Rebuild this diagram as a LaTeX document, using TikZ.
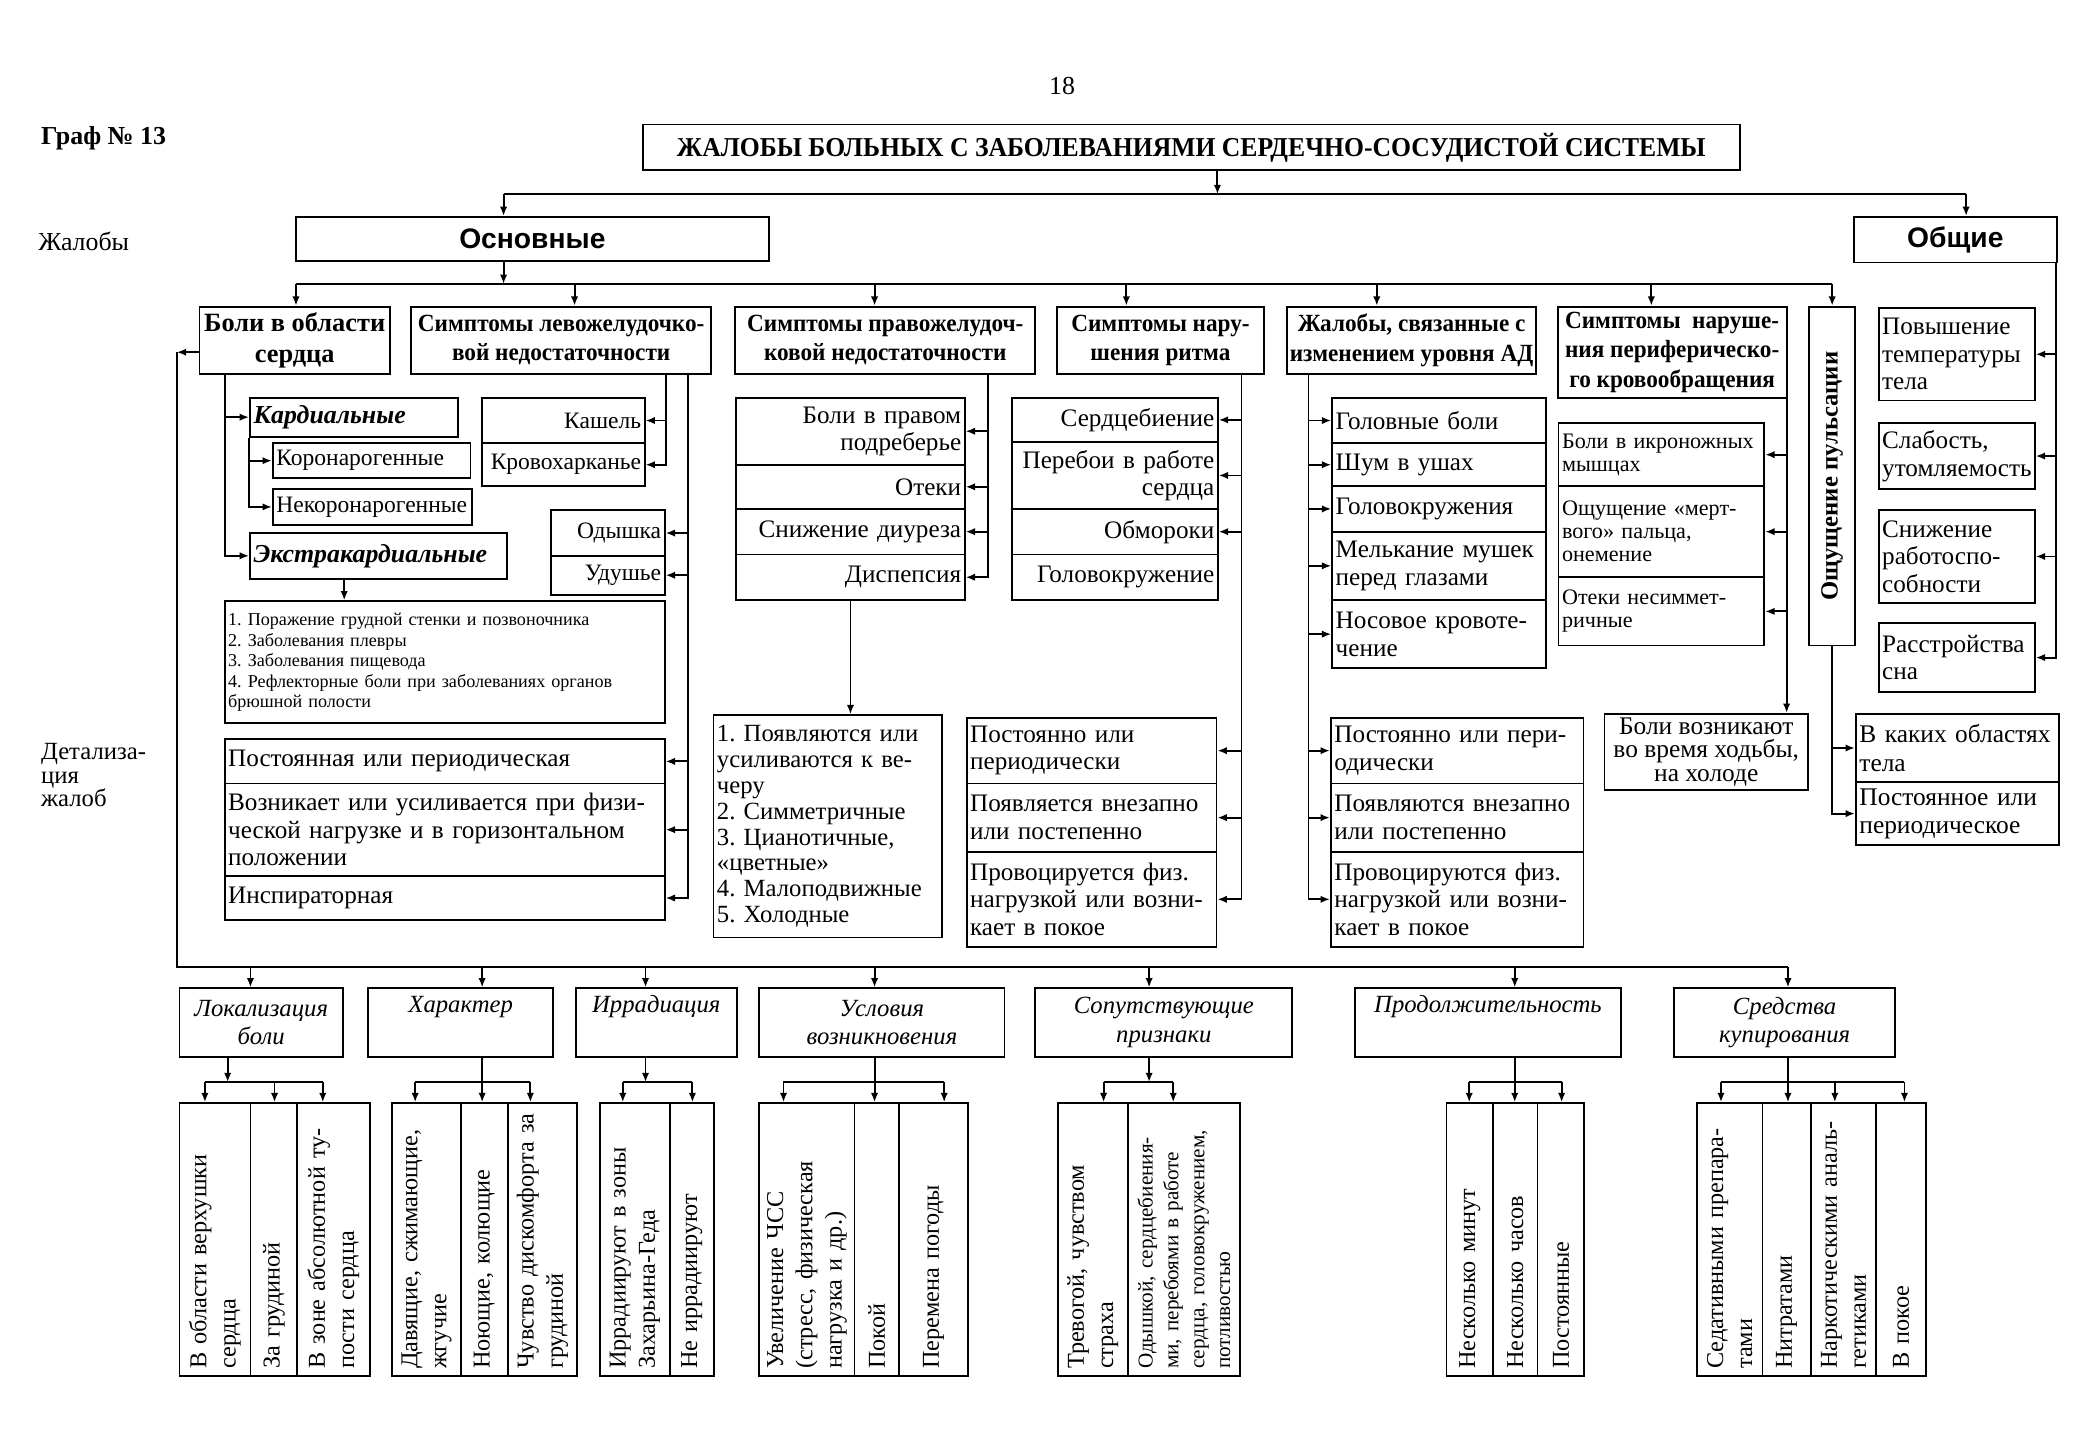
\documentclass[tikz,border=0pt]{standalone}
\usepackage{fontspec}
\setmainfont{Liberation Serif}
\newfontfamily\hdsans{Liberation Sans}
\newfontfamily\hdserif{Liberation Serif}[FakeStretch=0.94]
\usetikzlibrary{arrows.meta}
\newcommand{\szbody}{\fontsize{10}{11.7}\selectfont}
\newcommand{\szbig}{\fontsize{10.7}{11.7}\selectfont}
\newcommand{\szhead}{\fontsize{10.5}{12.5}\selectfont\hdserif\bfseries}
\newcommand{\szkard}{\fontsize{11}{13}\selectfont\bfseries\itshape}
\newcommand{\szlist}{\fontsize{7.7}{8.7}\selectfont}
\newcommand{\szperi}{\fontsize{9.4}{9.8}\selectfont}
\newcommand{\szcol}{\fontsize{10.3}{12.4}\selectfont}
\newcommand{\szcolsm}{\fontsize{9}{11}\selectfont}
\newcommand{\szital}{\fontsize{10.5}{12}\selectfont\itshape}
\newcommand{\sztitle}{\fontsize{11.6}{13}\selectfont\hdserif\bfseries}
\newcommand{\szsans}{\fontsize{12}{14}\selectfont\hdsans\bfseries}

\begin{document}
\frenchspacing
\begin{tikzpicture}[
    x=0.02cm, y=-0.02cm,
    line width=0.8pt,
    >={Latex[length=1.4mm,width=1.1mm]},
    box/.style 2 args={draw, minimum width=#1*0.02cm, minimum height=#2*0.02cm,
                       inner sep=0pt, align=center},
    cell/.style n args={3}{draw, text width=#1*0.02cm-3.8pt,
                           minimum height=#2*0.02cm, inner xsep=1.5pt,
                           inner ysep=0pt, align=#3},
    col/.style 2 args={draw, rotate=90, text width=205*0.02cm-6.8pt,
                       minimum height=#1*0.02cm, inner xsep=3pt,
                       inner ysep=0pt, align=left, font=#2},
    lab/.style={inner sep=0pt, align=left, font=\szbody},
  ]
  \fill[white] (0,0) rectangle (1568,1087);
  \useasboundingbox (0,0) rectangle (1568,1087);

  %% ---- page head ------------------------------------------------------
  \node[lab] (PG) at (793,64) {\fontsize{11}{13}\selectfont 18};
  \node[lab, anchor=west] (GR) at (30,103) {\fontsize{11}{13}\selectfont\bfseries Граф № 13};
  \node[box={819}{34}, font=\sztitle] (T) at (889.5,110)
    {ЖАЛОБЫ БОЛЬНЫХ С ЗАБОЛЕВАНИЯМИ СЕРДЕЧНО-СОСУДИСТОЙ СИСТЕМЫ};
  \node[lab, anchor=west, font=\fontsize{11}{13}\selectfont] (LJ) at (28,180) {Жалобы};
  \node[lab, anchor=west, font=\fontsize{10.5}{10}\selectfont] (LD) at (30,579)
    {Детализа-\\ция\\жалоб};

  \node[box={353}{33}, font=\szsans] (OSN) at (397.5,178.5) {Основные};
  \node[box={152}{34}, font=\szsans] (OB)  at (1460,179)   {Общие};

  \coordinate (t0) at (909,145);
  \coordinate (t1) at (376,145);
  \coordinate (t2) at (1468,145);
  \draw[->] (t0 |- T.south) -- (t0);
  \draw (t1) -- (t2);
  \draw[->] (t1) -- (t1 |- OSN.north);
  \draw[->] (t2) -- (t2 |- OB.north);

  %% ---- main groups ----------------------------------------------------
  \node[box={142}{50}, font=\fontsize{11.2}{13}\selectfont\bfseries] (BO) at (220,254) {Боли в области\\сердца};
  \node[box={224}{50}, font=\szhead] (LV) at (419,254)    {Симптомы левожелудочко-\\вой недостаточности};
  \node[box={224}{50}, font=\szhead] (PR) at (661,254)    {Симптомы правожелудоч-\\ковой недостаточности};
  \node[box={155}{50}, font=\szhead] (RT) at (866.5,254)  {Симптомы нару-\\шения ритма};
  \node[box={186}{50}, font=\szhead] (AD) at (1054,254)   {Жалобы, связанные с\\изменением уровня АД};
  \node[box={171}{68}, font=\szhead] (PE) at (1248.5,263) {Симптомы \ наруше-\\ния периферическо-\\го кровообращения};
  \node[box={253}{34}, rotate=90, font=\fontsize{10.5}{12.5}\selectfont\bfseries] (PU) at (1368,355.5)
    {Ощущение пульсации};

  \coordinate (s0) at (376,212);
  \draw[->] (s0 |- OSN.south) -- (s0);
  \draw (221,212) -- (1368,212);
  % PU is turned: its east anchor is the top
  \foreach \n/\a/\x in {BO/north/221, LV/north/429, PR/north/653, RT/north/841,
                        AD/north/1028, PE/north/1233, PU/east/1368}
    \draw[->] (\x,212) -- (\x,212 |- \n.\a);

  %% ---- general complaints ---------------------------------------------
  \node[cell={118}{69}{left}, font=\szbig] (O1) at (1461,264.5) {Повышение\\температуры\\тела};
  \node[cell={118}{49}{left}, font=\szbig] (O2) at (1461,340.5) {Слабость,\\утомляемость};
  \node[cell={118}{69}{left}, font=\szbig] (O3) at (1461,415.5) {Снижение\\работоспо-\\собности};
  \node[cell={118}{52}{left}, font=\szbig] (O4) at (1461,491)   {Расстройства\\сна};

  \coordinate (ob) at (1535,0);
  \draw[->] (ob |- OB.south) |- (O4.east);
  \foreach \n in {O1,O2,O3}
    \draw[->] (ob |- \n.east) -- (\n.east);

  %% ---- pain in the heart ----------------------------------------------
  \node[cell={157}{29}{left}, font=\szkard] (KA) at (264.5,311.5) {Кардиальные};
  \node[cell={149}{26}{left}, font=\szbody] (KO) at (277.5,344)   {Коронарогенные};
  \node[cell={150}{27}{left}, font=\szbody] (NK) at (278,378.5)   {Некоронарогенные};
  \node[cell={193}{34}{left}, font=\szkard] (EX) at (282.5,415)   {Экстракардиальные};
  \node[cell={330}{91}{left}, font=\szlist] (L1) at (332,494.5)
    {1. Поражение грудной стенки и позвоночника\\
     2. Заболевания плевры\\
     3. Заболевания пищевода\\
     4. Рефлекторные боли при заболеваниях органов\\
     брюшной полости};

  \coordinate (bo) at (168,0);
  \draw[->] (bo |- BO.south) |- (EX.west);
  \draw[->] (bo |- KA.west) -- (KA.west);
  \draw[->] (KA.south west) |- (NK.west);
  \draw[->] (KA.south west |- KO.west) -- (KO.west);
  \coordinate (ex) at (257,0);
  \draw[->] (ex |- EX.south) -- (ex |- L1.north);

  \coordinate (lc) at (132,263);
  \draw[->] (lc -| BO.west) -- (lc);

  %% ---- left ventricle -------------------------------------------------
  \node[cell={123}{34}{right}, font=\szbody] (KS) at (420.5,314) {Кашель};
  \node[cell={123}{32}{right}, font=\szbody] (KR) at (420.5,347) {Кровохарканье};
  \node[cell={86}{34}{right},  font=\szbody] (OD) at (454,398)   {Одышка};
  \node[cell={86}{29}{right},  font=\szbody] (UD) at (454,429.5) {Удушье};
  \node[cell={330}{33}{left},  font=\szbig] (D1) at (332,568.5) {Постоянная или периодическая};
  \node[cell={330}{69}{left},  font=\szbig] (D2) at (332,619.5)
    {Возникает или усиливается при физи-\\ческой нагрузке и в горизонтальном\\положении};
  \node[cell={330}{33}{left},  font=\szbig] (D3) at (332,670.5) {Инспираторная};

  \coordinate (lv) at (497,0);
  \draw[->] (lv |- LV.south) |- (KR.east);
  \draw[->] (lv |- KS.east) -- (KS.east);
  \coordinate (lw) at (514,0);
  \draw[->] (lw |- LV.south) |- (D3.east);
  \foreach \n in {OD,UD,D1,D2}
    \draw[->] (lw |- \n.east) -- (\n.east);

  %% ---- right ventricle ------------------------------------------------
  \node[cell={172}{50}{right}, font=\szbig] (P1) at (635,322)   {Боли в правом\\подреберье};
  \node[cell={172}{33}{right}, font=\szbig] (P2) at (635,363.5) {Отеки};
  \node[cell={172}{34}{right}, font=\szbig] (P3) at (635,397)   {Снижение диуреза};
  \node[cell={172}{34}{right}, font=\szbig] (P4) at (635,431)   {Диспепсия};
  \node[cell={172}{166}{left}, font=\fontsize{10.5}{11}\selectfont] (PD) at (618,617)
    {1. Появляются или\\усиливаются к ве-\\черу\\2. Симметричные\\3. Цианотичные,\\%
     «цветные»\\4. Малоподвижные\\5. Холодные};

  \coordinate (pr) at (738,0);
  \draw[->] (pr |- PR.south) |- (P4.east);
  \foreach \n in {P1,P2,P3}
    \draw[->] (pr |- \n.east) -- (\n.east);
  \draw[->] (P4.south) -- (P4.south |- PD.north);

  %% ---- rhythm ---------------------------------------------------------
  \node[cell={155}{33}{right}, font=\szbig] (R1) at (832.5,313.5) {Сердцебиение};
  \node[cell={155}{50}{right}, font=\szbig] (R2) at (832.5,355)   {Перебои в работе\\сердца};
  \node[cell={155}{34}{right}, font=\szbig] (R3) at (832.5,397)   {Обмороки};
  \node[cell={155}{34}{right}, font=\szbig] (R4) at (832.5,431)   {Головокружение};
  \node[cell={188}{49}{left},  font=\szbig] (R5) at (815,560.5)   {Постоянно или\\периодически};
  \node[cell={188}{51}{left},  font=\szbig] (R6) at (815,610.5)   {Появляется внезапно\\или постепенно};
  \node[cell={188}{71}{left},  font=\szbig] (R7) at (815,671.5)
    {Провоцируется физ.\\нагрузкой или возни-\\кает в покое};

  \coordinate (rt) at (927,0);
  \draw[->] (rt |- RT.south) |- (R7.east);
  \foreach \n in {R1,R2,R3,R5,R6}
    \draw[->] (rt |- \n.east) -- (\n.east);

  %% ---- blood pressure -------------------------------------------------
  \node[cell={161}{34}{left}, font=\szbig] (A1) at (1074.5,314)   {Головные боли};
  \node[cell={161}{32}{left}, font=\szbig] (A2) at (1074.5,347)   {Шум в ушах};
  \node[cell={161}{34}{left}, font=\szbig] (A3) at (1074.5,380)   {Головокружения};
  \node[cell={161}{51}{left}, font=\szbig] (A4) at (1074.5,422.5) {Мелькание мушек\\перед глазами};
  \node[cell={161}{51}{left}, font=\szbig] (A5) at (1074.5,473.5) {Носовое кровоте-\\чение};
  \node[cell={190}{49}{left}, font=\szbig] (A6) at (1088,560.5)   {Постоянно или пери-\\одически};
  \node[cell={190}{51}{left}, font=\szbig] (A7) at (1088,610.5)   {Появляются внезапно\\или постепенно};
  \node[cell={190}{71}{left}, font=\szbig] (A8) at (1088,671.5)
    {Провоцируются физ.\\нагрузкой или возни-\\кает в покое};

  \coordinate (ad) at (977,0);
  \draw[->] (ad |- AD.south) |- (A8.west);
  \foreach \n in {A1,A2,A3,A4,A5,A6,A7}
    \draw[->] (ad |- \n.west) -- (\n.west);

  %% ---- peripheral circulation and pulsation ---------------------------
  \node[cell={155}{47}{left}, font=\szperi] (E1) at (1240.5,339.5) {Боли в икроножных\\мышцах};
  \node[cell={155}{68}{left}, font=\szperi] (E2) at (1240.5,397)   {Ощущение «мерт-\\вого» пальца,\\онемение};
  \node[cell={155}{51}{left}, font=\szperi] (E3) at (1240.5,456.5) {Отеки несиммет-\\ричные};
  \node[box={152}{57}, font=\fontsize{10.8}{10}\selectfont] (HW) at (1274,561.5)
    {Боли возникают\\во время ходьбы,\\на холоде};

  \coordinate (pe) at (1334,0);
  \draw[->] (pe |- PE.south) -- (pe |- HW.north);
  \foreach \n in {E1,E2,E3}
    \draw[->] (pe |- \n.east) -- (\n.east);

  \node[cell={153}{51}{left}, font=\fontsize{10.8}{12}\selectfont] (KK) at (1461.5,558.5) {В каких областях\\тела};
  \node[cell={153}{47}{left}, font=\fontsize{10.8}{12}\selectfont] (PP) at (1461.5,607.5) {Постоянное или\\периодическое};
  % PU is turned: its west anchor is the bottom
  \draw[->] (PU.west) |- (PP.west);
  \draw[->] (PU.west |- KK.west) -- (KK.west);

  %% ---- detail headings ------------------------------------------------
  \node[box={122}{51}, font=\szital] (H1) at (195,763.5)    {Локализация\\боли};
  \node[box={138}{51}, font=\szital] (H2) at (344,763.5)    {Характер\\\strut};
  \node[box={120}{51}, font=\szital] (H3) at (490,763.5)    {Иррадиация\\\strut};
  \node[box={183}{51}, font=\szital] (H4) at (658.5,763.5)  {Условия\\возникновения};
  \node[box={192}{51}, font=\szital] (H5) at (869,763.5)    {Сопутствующие\\признаки};
  \node[box={198}{51}, font=\szital] (H6) at (1111,763.5)   {Продолжительность\\\strut};
  \node[box={165}{51}, font=\szital] (H7) at (1332.5,763.5) {Средства\\купирования};

  \coordinate (bb0) at (132,722);
  \coordinate (bb1) at (1335,722);
  \draw (lc) -- (bb0) -- (bb1);
  \foreach \n/\x in {H1/187, H2/360, H3/482, H4/653, H5/858, H6/1131, H7/1335}
    \draw[->] (\x,722) -- (\x,722 |- \n.north);

  %% ---- detail columns (turned, east anchor = top) ---------------------
  \node[col={53}{\szcol}] (C11) at (160.5,925.5) {В области верхушки\\сердца};
  \node[col={35}{\szcol}] (C12) at (204.5,925.5) {За грудиной};
  \node[col={54}{\szcol}] (C13) at (249,925.5)   {В зоне абсолютной ту-\\пости сердца};
  \node[col={51}{\szcol}] (C21) at (318.5,925.5) {Давящие, сжимающие,\\жгучие};
  \node[col={35}{\szcol}] (C22) at (361.5,925.5) {Ноющие, колющие};
  \node[col={52}{\szcol}] (C23) at (405,925.5)   {Чувство дискомфорта за\\грудиной};
  \node[col={52}{\szcol}] (C31) at (474,925.5)   {Иррадиируют в зоны\\Захарьина-Геда};
  \node[col={33}{\szcol}] (C32) at (516.5,925.5) {Не иррадиируют};
  \node[col={71}{\szcol}] (C41) at (602.5,925.5) {Увеличение ЧСС\\(стресс, физическая\\нагрузка и др.)};
  \node[col={33}{\szcol}] (C42) at (654.5,925.5) {Покой};
  \node[col={52}{\szcol}] (C43) at (697,925.5)   {Перемена погоды};
  \node[col={52}{\szcol}] (C51) at (816,925.5)   {Тревогой, чувством\\страха};
  \node[col={84}{\szcolsm}] (C52) at (884,925.5)
    {Одышкой, сердцебиения-\\ми, перебоями в работе\\сердца, головокружением,\\потливостью};
  \node[col={35}{\szcol}] (C61) at (1097.5,925.5) {Несколько минут};
  \node[col={33}{\szcol}] (C62) at (1131.5,925.5) {Несколько часов};
  \node[col={35}{\szcol}] (C63) at (1165.5,925.5) {Постоянные};
  \node[col={49}{\szcol}] (C71) at (1291.5,925.5) {Седативными препара-\\тами};
  \node[col={36}{\szcol}] (C72) at (1334,925.5)   {Нитратами};
  \node[col={49}{\szcol}] (C73) at (1376.5,925.5) {Наркотическими аналь-\\гетиками};
  \node[col={37}{\szcol}] (C74) at (1419.5,925.5) {В покое};

  \foreach \a/\b in {153/241, 310/396, 465/517, 585/705, 824/876, 1097/1166, 1285/1422}
    \draw (\a,808) -- (\b,808);
  \foreach \n/\x in {H1/170, H3/482, H5/858}
    \draw[->] (\x,808 |- \n.south) -- (\x,808);
  \foreach \n/\c/\x in {H2/C22/360, H4/C42/653, H6/C62/1131, H7/C72/1335}
    \draw[->] (\x,808 |- \n.south) -- (\x,808 |- \c.east);
  \foreach \c/\x in {C11/153, C12/205, C13/241, C21/310, C23/396, C31/465, C32/517,
                     C41/585, C43/705, C51/824, C52/876, C61/1097, C63/1166,
                     C71/1285, C73/1370, C74/1422}
    \draw[->] (\x,808) -- (\x,808 |- \c.east);

\end{tikzpicture}
\end{document}
